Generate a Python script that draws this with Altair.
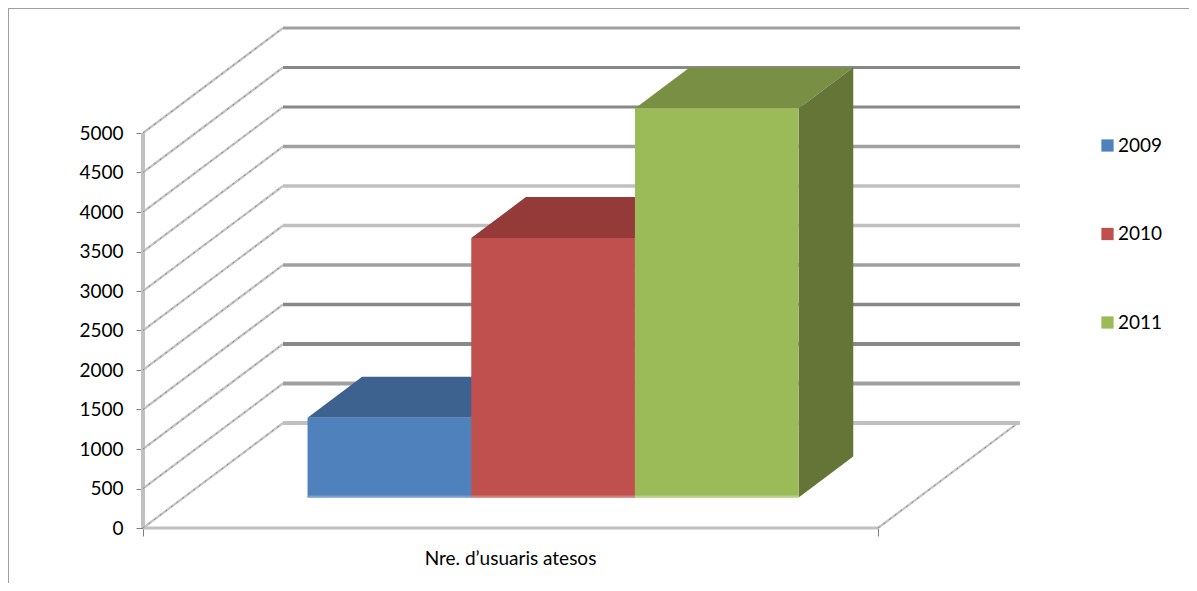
import altair as alt
import pandas as pd

# ---- values
years = ["2009", "2010", "2011"]
users = [1010, 3285, 4925]
levels = [0, 500, 1000, 1500, 2000, 2500, 3000, 3500, 4000, 4500, 5000]
category = "Nre. d’usuaris atesos"

# ---- styles
front_colors = ["#4f81bd", "#c0504d", "#9bbb59"]
top_colors = ["#3d6290", "#943b39", "#788f44"]
side_colors = ["#3d6290", "#943b39", "#647537"]
edge_colors = ["#7c9fcc", "#d17f7c", "#b9d088"]
level_colors = ["#c0c0c0", "#a0a0a0", "#888888", "#888888", "#a0a0a0", "#c0c0c0",
                "#c0c0c0", "#a0a0a0", "#888888", "#888888", "#a0a0a0"]
level_widths = [4, 3, 2.5, 2, 2, 3, 3, 2.5, 3, 3, 2]
FONT = "Lato"

# ---- oblique projection of the 3D box onto the page
W, H = 1181, 575
PX_PER_UNIT = 0.079
ORIGIN_X, ORIGIN_Y = 135, 520
FLOOR = 735
BACK_DX = 140
BACK_DV = 105 / PX_PER_UNIT
BAR_W = 163.7
GAP = (FLOOR - 3 * BAR_W) / 2 + 2
D0, D1 = 0.29, 0.68


def px(x, depth):
    return x + BACK_DX * depth


def pv(v, depth):
    return v + BACK_DV * depth


xs = alt.Scale(domain=[-ORIGIN_X, W - ORIGIN_X], nice=False, zero=False)
ys = alt.Scale(domain=[-(H - ORIGIN_Y) / PX_PER_UNIT, ORIGIN_Y / PX_PER_UNIT], nice=False, zero=False)
x_axis = alt.Axis(
    values=[0, FLOOR], labels=False, grid=False, domain=False, offset=-(H - ORIGIN_Y),
    tickSize=8, tickColor="#808080", title=category, titleFont=FONT, titleFontSize=19,
    titleFontWeight="normal", titleColor="#000000", titleX=502, titleY=21)
y_axis = alt.Axis(
    values=levels, format="d", grid=False, domain=False, offset=-ORIGIN_X, tickSize=7, tickColor="#808080",
    labelFont=FONT, labelFontSize=19, labelColor="#000000", labelPadding=13, title=None)
X = alt.X("x:Q", scale=xs, axis=x_axis)
Y = alt.Y("y:Q", scale=ys, axis=y_axis)

layers = []

# frame
layers.append(alt.Chart(pd.DataFrame({"a": [0]})).mark_rule(color="#a0a0a0", strokeWidth=2).encode(
    x=alt.value(0), y=alt.value(0), y2=alt.value(H)))
layers.append(alt.Chart(pd.DataFrame({"a": [0]})).mark_rule(color="#a0a0a0", strokeWidth=2).encode(
    y=alt.value(0), x=alt.value(0), x2=alt.value(W)))

# left axis wall and floor
layers.append(alt.Chart(pd.DataFrame({"x": [0], "y": [0], "y2": [5000]})).mark_rule(
    color="#c0c0c0", strokeWidth=4).encode(x=X, y=Y, y2="y2:Q"))
layers.append(alt.Chart(pd.DataFrame({"x": [0], "x2": [FLOOR], "y": [0]})).mark_rule(
    color="#c0c0c0", strokeWidth=3).encode(x=X, x2="x2:Q", y=Y))

# side wall diagonals (+ the floor's right edge)
diag = []
for v in levels:
    diag += [{"k": v, "x": 0, "y": v}, {"k": v, "x": BACK_DX, "y": pv(v, 1)}]
diag += [{"k": -1, "x": FLOOR, "y": 0}, {"k": -1, "x": FLOOR + BACK_DX, "y": pv(0, 1)}]
diag = pd.DataFrame(diag)
layers.append(alt.Chart(diag).mark_line(color="#c4c4c4", strokeWidth=2.2).encode(x=X, y=Y, detail="k:N"))
layers.append(alt.Chart(diag).mark_line(color="#808080", strokeWidth=1, strokeDash=[2, 5]).encode(x=X, y=Y, detail="k:N"))

# back wall lines
back = pd.DataFrame({"x": [BACK_DX] * len(levels), "x2": [FLOOR + BACK_DX + 2] * len(levels),
                     "y": [pv(v, 1) for v in levels], "level": levels})
layers.append(alt.Chart(back).mark_rule().encode(
    x=X, x2="x2:Q", y=Y,
    stroke=alt.Stroke("level:O", scale=alt.Scale(domain=levels, range=level_colors), legend=None),
    strokeWidth=alt.StrokeWidth("level:O", scale=alt.Scale(domain=levels, range=level_widths), legend=None),
))

# bars
rows = []
for i, (yr, v) in enumerate(zip(years, users)):
    x0 = GAP + i * BAR_W
    x1 = x0 + BAR_W
    top = pd.DataFrame({"y": [pv(v, D0), pv(v, D1)], "x": [px(x0, D0), px(x0, D1)], "x2": [px(x1, D0), px(x1, D1)]})
    layers.append(alt.Chart(top).mark_area(orient="horizontal", color=top_colors[i]).encode(
        x=X, x2="x2:Q", y=Y))
    side = pd.DataFrame({"x": [px(x1, D0), px(x1, D1)], "y": [pv(0, D0), pv(0, D1)], "y2": [pv(v, D0), pv(v, D1)]})
    layers.append(alt.Chart(side).mark_area(orient="vertical", color=side_colors[i]).encode(
        x=X, y=Y, y2="y2:Q"))
    rows.append({"year": yr, "x": px(x0, D0), "x2": px(x1, D0), "y": pv(0, D0), "y2": pv(v, D0),
                 "edge": pv(25, D0), "edgec": edge_colors[i]})
front = pd.DataFrame(rows)
layers.append(alt.Chart(front).mark_rect().encode(
    x=X, x2="x2:Q", y=Y, y2="y2:Q",
    color=alt.Color("year:N", scale=alt.Scale(domain=years, range=front_colors), legend=alt.Legend(
        title=None, orient="none", legendX=1090, legendY=128, symbolType="square", symbolSize=150,
        symbolStrokeWidth=0, labelFont=FONT, labelFontSize=19, labelColor="#000000", rowPadding=68.5,
        labelOffset=1, padding=0)),
))
layers.append(alt.Chart(front).mark_rect().encode(
    x=X, x2="x2:Q", y=Y, y2="edge:Q",
    fill=alt.Fill("edgec:N", scale=None)))

chart = alt.layer(*layers).properties(
    width=W, height=H, padding=0, autosize=alt.AutoSizeParams(type="none")
).configure_view(stroke=None).configure(background="white")

chart.save("out.html", embed_options={"renderer": "svg", "actions": False})
